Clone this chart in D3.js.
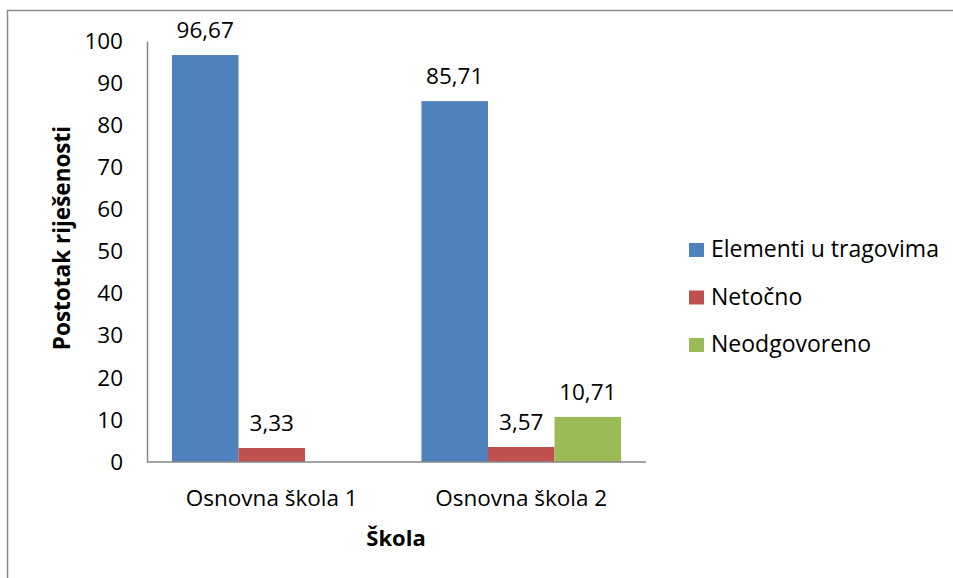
<!DOCTYPE html>
<html>
<head>
<meta charset="utf-8">
<script src="https://cdn.jsdelivr.net/npm/d3@7"></script>
<style>
  html, body { margin: 0; padding: 0; background: #fff; }
  svg { display: block; }
  text { font-family: "Open Sans", sans-serif; fill: #000; }
</style>
</head>
<body>
<svg id="chart" width="953" height="578"></svg>
<script>
const categories = ["Osnovna škola 1", "Osnovna škola 2"];
const seriesNames = ["Elementi u tragovima", "Netočno", "Neodgovoreno"];
const seriesColors = ["#4F81BD", "#C0504D", "#9BBB59"];
const elementiValues = [96.67, 85.71];
const netocnoValues = [3.33, 3.57];
const neodgovorenoValues = [null, 10.71];
const yTicks = [0, 10, 20, 30, 40, 50, 60, 70, 80, 90, 100];
const yTitle = "Postotak riješenosti";
const xTitle = "Škola";

const seriesValues = [elementiValues, netocnoValues, neodgovorenoValues];

const svg = d3.select("#chart");

// outer frame
svg.append("rect")
  .attr("x", 7.5).attr("y", 10.5)
  .attr("width", 1000).attr("height", 1000)
  .attr("fill", "none").attr("stroke", "#8c8c8c").attr("stroke-width", 1.5);

const plot = { left: 147, right: 646, top: 41, bottom: 462 };

const x0 = d3.scaleBand().domain(categories)
  .range([plot.left, plot.right]).paddingInner(0.2).paddingOuter(0.1);
const x1 = d3.scaleBand().domain(seriesNames).range([0, x0.bandwidth()]);
const y = d3.scaleLinear().domain([0, 100]).range([plot.bottom, plot.top]);

// bars
const data = [];
categories.forEach((c, i) => {
  seriesNames.forEach((s, j) => {
    const v = seriesValues[j][i];
    if (v !== null && v !== undefined) data.push({ c, s, v, color: seriesColors[j] });
  });
});

const fmt = v => d3.format(".2f")(v).replace(".", ",");

svg.append("g").selectAll("rect").data(data).join("rect")
  .attr("x", d => x0(d.c) + x1(d.s))
  .attr("width", x1.bandwidth())
  .attr("y", d => y(d.v))
  .attr("height", d => y(0) - y(d.v))
  .attr("fill", d => d.color);

svg.append("g").selectAll("text").data(data).join("text")
  .attr("x", d => x0(d.c) + x1(d.s) + x1.bandwidth() / 2)
  .attr("y", d => y(d.v) - 17)
  .attr("text-anchor", "middle")
  .style("font-size", "22.5px")
  .text(d => fmt(d.v));

// y axis
const yAxis = d3.axisLeft(y).tickValues(yTicks).tickSize(0).tickPadding(24);
const gy = svg.append("g").attr("transform", `translate(${plot.left},0)`).call(yAxis);
gy.select(".domain").attr("stroke", "#868686").attr("stroke-width", 1.5);
gy.selectAll("text").style("font-size", "22.5px").style("font-family", "Open Sans").attr("fill", "#000");

// x axis
const xAxis = d3.axisBottom(x0).tickSize(0).tickPadding(28);
const gx = svg.append("g").attr("transform", `translate(0,${plot.bottom})`).call(xAxis);
gx.select(".domain").attr("stroke", "#868686").attr("stroke-width", 1.5)
  .attr("d", `M${plot.left},0H${plot.right}`);
gx.selectAll("text").style("font-size", "22.5px").style("font-family", "Open Sans").attr("fill", "#000");

// axis titles
svg.append("text")
  .attr("transform", `translate(70,238) rotate(-90)`)
  .attr("text-anchor", "middle")
  .style("font-size", "22.5px").style("font-weight", "bold")
  .text(yTitle);

svg.append("text")
  .attr("x", 396).attr("y", 546)
  .attr("text-anchor", "middle")
  .style("font-size", "22px").style("font-weight", "bold")
  .text(xTitle);

// legend
const legend = svg.append("g").selectAll("g").data(seriesNames).join("g")
  .attr("transform", (d, i) => `translate(689,${243 + i * 47.5})`);
legend.append("rect").attr("width", 15).attr("height", 14).attr("fill", (d, i) => seriesColors[i]);
legend.append("text").attr("x", 22).attr("y", 14)
  .style("font-size", "23px").text(d => d);
</script>
</body>
</html>
